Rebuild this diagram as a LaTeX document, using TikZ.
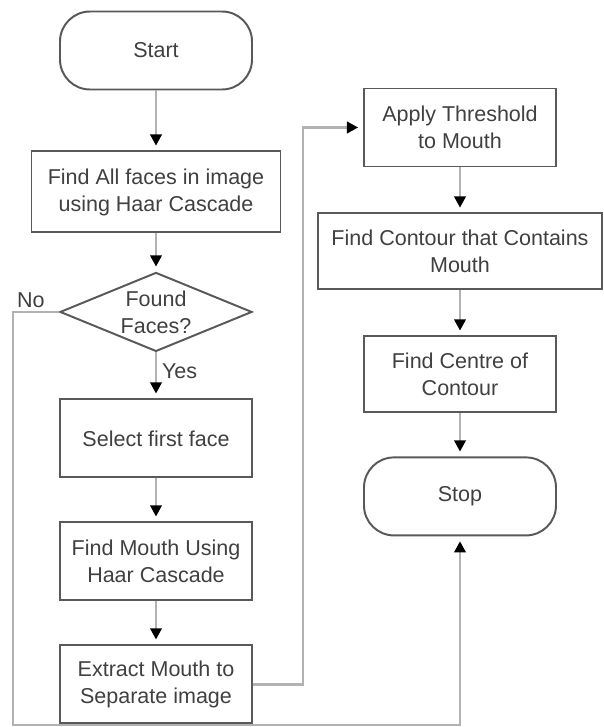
\documentclass[tikz,border=0pt]{standalone}
\usepackage{fontspec}
\setmainfont{Liberation Sans}
\usetikzlibrary{positioning, shapes.geometric, arrows.meta}
\tikzset{>={Triangle[width=8pt,length=8pt,black]},
every node/.style={font=\fontsize{15.3}{19.2}\selectfont, text=black!75},
process/.style={draw=black!65, line width=1.4pt, minimum width=4.8cm, minimum height=1.95cm, align=center},
terminal/.style={process, rounded corners=0.75cm},
decision/.style={diamond, draw=black!65, line width=1.4pt, aspect=2.43, inner sep=0pt, minimum width=4.8cm, minimum height=1.975cm, align=center},
line/.style={->, draw=black!30, line width=2pt, shorten >=0.12cm},
}

\begin{document}
\begin{tikzpicture}
    \useasboundingbox (0,0) rectangle (15.1,-18.175);
    \node[terminal] (start) at (3.9,-1.2625) {Start};
    \node[process, below=1.5cm of start, minimum width=6.225cm, minimum height=2.025cm] (faces) {Find All faces in image\\using Haar Cascade};
    \node[decision, below=0.95cm of faces] (found) {Found\\Faces?};
    \node[process, below=1.15cm of found] (select) {Select first face};
    \node[process, below=1.075cm of select] (mouth) {Find Mouth Using\\Haar Cascade};
    \node[process, below=1.075cm of mouth] (extract) {Extract Mouth to\\Separate image};
    \node[process] (thresh) at (11.5,-3.1875) {Apply Threshold\\to Mouth};
    \node[process, below=1.125cm of thresh, minimum width=7.1cm, minimum height=1.9cm] (contour) {Find Contour that Contains\\Mouth};
    \node[process, below=1.125cm of contour, minimum height=1.9cm] (centre) {Find Centre of\\Contour};
    \node[terminal, below=1.075cm of centre] (stop) {Stop};
    \coordinate (corner) at (0.325,-18.125);
    \coordinate (jump) at (7.575,0);
    \draw[line] (start) -- (faces);
    \draw[line] (faces) -- (found);
    \draw[line] (found) -- node[right, pos=0.4]{Yes} (select);
    \draw[line] (select) -- (mouth);
    \draw[line] (mouth) -- (extract);
    \draw[line] (extract.east) -- (extract.east -| jump) |- (thresh.west);
    \draw[line] (thresh) -- (contour);
    \draw[line] (contour) -- (centre);
    \draw[line] (centre) -- (stop);
    \draw[line] (found.west) -- (found.west -| corner)
        node[above right, inner sep=2pt]{No} -- (corner) -| (stop.south);
\end{tikzpicture}
\end{document}
